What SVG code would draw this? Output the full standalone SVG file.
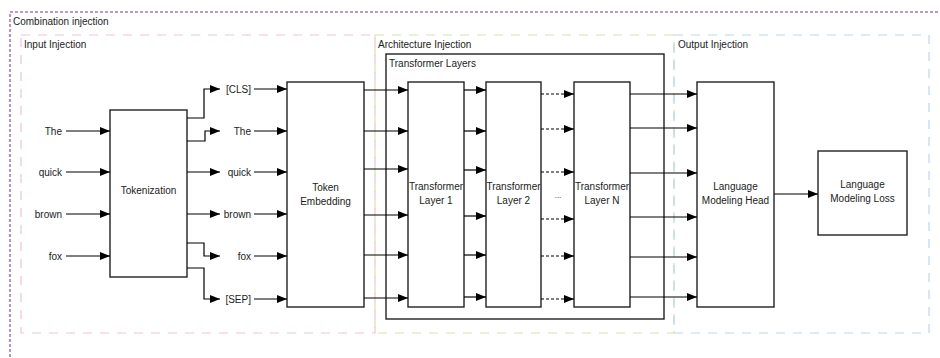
<svg xmlns="http://www.w3.org/2000/svg" width="940" height="358" viewBox="0 0 940 358">
<defs>
<marker id="ah" markerUnits="userSpaceOnUse" markerWidth="11" markerHeight="9" refX="10" refY="4" orient="auto">
<path d="M0,0 L10,4 L0,8 z" fill="#000"/>
</marker>
<style>
text{font-family:"Liberation Sans",Arial,sans-serif;font-size:10px;fill:#222}
.m{text-anchor:middle}
.e{text-anchor:end}
.box{fill:#fff;stroke:#222;stroke-width:1.4}
.c{fill:none;stroke:#000;stroke-width:1.2;marker-end:url(#ah)}
.d{stroke-dasharray:3 2}
.zone{fill:none;stroke-width:1.2;stroke-dasharray:9 8}
</style>
</defs>
<rect width="940" height="358" fill="#fff"/>
<g id="combination">
<rect x="10" y="12" width="940" height="360" fill="none" stroke="#a77bb5" stroke-width="1.6" stroke-dasharray="3 2"/>
<text x="13" y="25">Combination injection</text>
</g>
<g id="input-injection">
<rect x="21" y="35" width="354" height="298" class="zone" stroke="#f2c3d2"/>
<text x="24" y="48">Input Injection</text>
</g>
<g id="architecture-injection">
<rect x="375" y="35" width="299" height="298" class="zone" stroke="#cfe6b4"/>
<text x="378" y="48">Architecture Injection</text>
</g>
<g id="output-injection">
<rect x="674" y="35" width="255" height="298" class="zone" stroke="#bdd6ee"/>
<text x="678" y="48">Output Injection</text>
</g>
<g id="transformer-layers">
<rect x="386" y="54" width="278" height="265" fill="none" stroke="#222" stroke-width="1.4"/>
<text x="389" y="67">Transformer Layers</text>
</g>
<g id="inputs">
<text class="e" x="62" y="135">The</text>
<text class="e" x="62" y="176">quick</text>
<text class="e" x="62" y="218">brown</text>
<text class="e" x="62" y="260">fox</text>
</g>
<g id="tokenization">
<rect class="box" x="110" y="110" width="77" height="167"/>
<text class="m" x="148.5" y="194">Tokenization</text>
</g>
<g id="tokens">
<text class="e" x="251" y="93">[CLS]</text>
<text class="e" x="251" y="135">The</text>
<text class="e" x="251" y="176">quick</text>
<text class="e" x="251" y="218">brown</text>
<text class="e" x="251" y="260">fox</text>
<text class="e" x="251" y="303">[SEP]</text>
</g>
<g id="token-embedding">
<rect class="box" x="287" y="82" width="77" height="225"/>
<text class="m" x="325.5" y="191">Token</text>
<text class="m" x="325.5" y="205">Embedding</text>
</g>
<g id="layer-1">
<rect class="box" x="408" y="82" width="56" height="225"/>
<text class="m" x="436" y="190">Transformer</text>
<text class="m" x="436" y="204">Layer 1</text>
</g>
<g id="layer-2">
<rect class="box" x="486" y="82" width="55" height="225"/>
<text class="m" x="513.5" y="190">Transformer</text>
<text class="m" x="513.5" y="204">Layer 2</text>
</g>
<g id="ellipsis">
<text class="m" x="558" y="198" style="font-size:8px">...</text>
</g>
<g id="layer-n">
<rect class="box" x="574" y="82" width="56" height="225"/>
<text class="m" x="602" y="190">Transformer</text>
<text class="m" x="602" y="204">Layer N</text>
</g>
<g id="lm-head">
<rect class="box" x="697" y="82" width="77" height="225"/>
<text class="m" x="735.5" y="190">Language</text>
<text class="m" x="735.5" y="204">Modeling Head</text>
</g>
<g id="lm-loss">
<rect class="box" x="818" y="151" width="89" height="84"/>
<text class="m" x="862.5" y="188">Language</text>
<text class="m" x="862.5" y="202">Modeling Loss</text>
</g>
<g id="connectors">
<path class="c" d="M66,131 H110"/>
<path class="c" d="M66,172 H110"/>
<path class="c" d="M66,214 H110"/>
<path class="c" d="M66,256 H110"/>
<path class="c" d="M187,118 H204 V89 H220"/>
<path class="c" d="M187,141 H205 V131 H220"/>
<path class="c" d="M187,172 H220"/>
<path class="c" d="M187,214 H220"/>
<path class="c" d="M187,243 H204 V256 H220"/>
<path class="c" d="M187,268 H204 V299 H220"/>
<path class="c" d="M254,89 H287"/>
<path class="c" d="M254,131 H287"/>
<path class="c" d="M254,172 H287"/>
<path class="c" d="M254,214 H287"/>
<path class="c" d="M254,256 H287"/>
<path class="c" d="M254,299 H287"/>
<path class="c" d="M364,90 H408"/>
<path class="c" d="M364,131 H408"/>
<path class="c" d="M364,169 H408"/>
<path class="c" d="M364,215 H408"/>
<path class="c" d="M364,255 H408"/>
<path class="c" d="M364,298 H408"/>
<path class="c" d="M464,90 H486"/>
<path class="c" d="M464,131 H486"/>
<path class="c" d="M464,170 H486"/>
<path class="c" d="M464,216 H486"/>
<path class="c" d="M464,255 H486"/>
<path class="c" d="M464,297 H486"/>
<path class="c d" d="M541,94 H574"/>
<path class="c d" d="M541,129 H574"/>
<path class="c d" d="M541,172 H574"/>
<path class="c d" d="M541,219 H574"/>
<path class="c d" d="M541,256 H574"/>
<path class="c d" d="M541,299 H574"/>
<path class="c" d="M630,94 H697"/>
<path class="c" d="M630,128 H697"/>
<path class="c" d="M630,173 H697"/>
<path class="c" d="M630,217 H697"/>
<path class="c" d="M630,257 H697"/>
<path class="c" d="M630,297 H697"/>
<path class="c" d="M774,194 H818"/>
</g>
</svg>
